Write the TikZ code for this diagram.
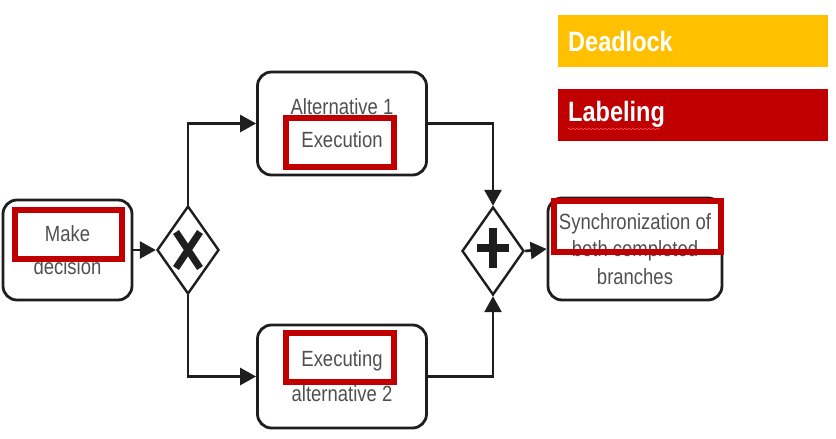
\documentclass[tikz,border=0pt]{standalone}
\usepackage{fontspec}
\setmainfont{Liberation Sans}
\newfontfamily\bodyfont[FakeStretch=0.84]{Liberation Sans}
\usetikzlibrary{arrows.meta,shapes.geometric,decorations.pathmorphing}
\definecolor{txtgray}{RGB}{80,80,80}
\definecolor{hired}{RGB}{192,0,0}
\definecolor{ambr}{RGB}{255,192,0}
\definecolor{edge}{RGB}{30,30,30}
\tikzset{
  task/.style={draw=edge, line width=2.8pt, rounded corners=14pt, fill=white,
    align=center, text=txtgray, inner sep=0pt},
  gate/.style={draw=edge, line width=2.4pt, diamond, fill=white, inner sep=0pt,
    minimum width=62pt, minimum height=88pt},
  flow/.style={draw=edge, line width=2.7pt, -{Triangle[length=16pt,width=17pt]}},
  redmark/.style={draw=hired, line width=6pt, inner sep=0pt},
  legend/.style={inner xsep=10pt, inner ysep=0pt, text width=250pt, align=left,
    minimum width=270pt, minimum height=52pt, text=white,
    font=\bodyfont\fontsize{28}{30}\selectfont\bfseries, anchor=west}
}
\begin{document}
\begin{tikzpicture}[x=1pt,y=-1pt]
\useasboundingbox[fill=white] (0,0) rectangle (836,439);
% tasks
\node[task, minimum width=129pt, minimum height=100pt,
  font=\bodyfont\fontsize{22}{33}\selectfont] (dec) at (67.5,250) {Make\\decision};
\node[task, minimum width=169pt, minimum height=103pt,
  font=\bodyfont\fontsize{22}{33}\selectfont] (a1) at (342,123.5) {Alternative 1\\Execution};
\node[task, minimum width=169pt, minimum height=103pt,
  font=\bodyfont\fontsize{22}{35}\selectfont] (a2) at (342,376.5) {Executing\\alternative 2};
\node[task, minimum width=174pt, minimum height=102pt,
  font=\bodyfont\fontsize{22}{27.5}\selectfont] (sync) at (635,249) {Synchronization of\\both completed\\branches};
% gateways
\node[gate] (xg) at (188,250) {};
\node[gate] (pg) at (493,251) {};
\draw[edge, line width=7pt] (176,232) -- (200,268) (200,232) -- (176,268);
\draw[edge, line width=8pt] (477,248) -- (509,248) (493,228) -- (493,268);
% flows
\draw[flow] (dec.east) -- (xg.west);
\draw[flow] (xg.north) |- (a1.west);
\draw[flow] (xg.south) |- (a2.west);
\draw[flow] (a1.east) -| (pg.north);
\draw[flow] (a2.east) -| (pg.south);
\draw[flow] (pg.east) -- (sync.west);
% red labeling marks
\node[redmark, minimum width=107pt, minimum height=49pt] (r0) at (68.5,234.5) {};
\node[redmark, minimum width=108pt, minimum height=49pt] (r1) at (340,142.5) {};
\node[redmark, minimum width=108pt, minimum height=49pt] (r2) at (340,357.5) {};
\node[redmark, minimum width=167pt, minimum height=51pt] (r3) at (637,226.5) {};
% legend
\node[legend, fill=ambr] (dl) at (558,41) {Deadlock};
\node[legend, fill=hired] (lb) at (558,114.5) {Labeling};
\draw[red!70!white, line width=0.6pt, decorate,
  decoration={snake, amplitude=0.8pt, segment length=4pt}] (568,129) -- (660,129);
\end{tikzpicture}
\end{document}
